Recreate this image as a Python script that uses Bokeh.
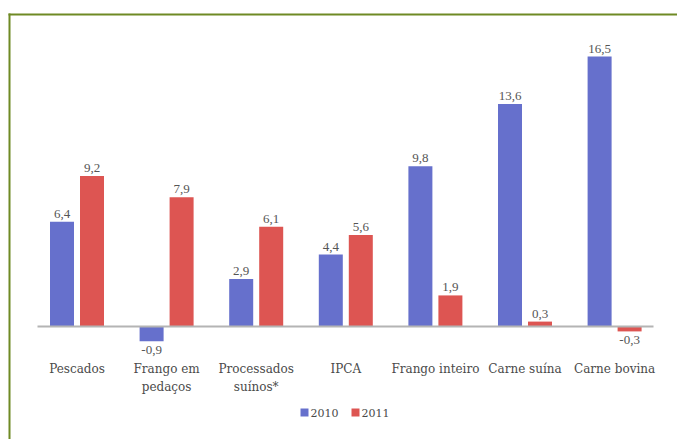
from bokeh.plotting import figure
from bokeh.models import Range1d, ColumnDataSource
from bokeh.core.properties import value
from bokeh.embed import file_html
from bokeh.resources import INLINE

categories = ["Pescados", "Frango em\npedaços", "Processados\nsuínos*", "IPCA",
              "Frango inteiro", "Carne suína", "Carne bovina"]
v2010 = [6.4, -0.9, 2.9, 4.4, 9.8, 13.6, 16.5]
v2011 = [9.2, 7.9, 6.1, 5.6, 1.9, 0.3, -0.3]
series = ["2010", "2011"]
colors = ["#6670cc", "#dd5552"]

W, H = 677, 439
SX = 89.6          # px per category
X0 = -76.5 / SX    # data x at left edge
ZERO_PX = 326
SY = 16.36         # px per unit

def xd(px):
    return X0 + px / SX

def yd(py):
    return (ZERO_PX - py) / SY

p = figure(width=W, height=H, x_range=Range1d(X0, X0 + W / SX),
           y_range=Range1d(yd(H), yd(0)), min_border=0,
           min_border_left=0, min_border_right=0, min_border_top=0, min_border_bottom=0,
           toolbar_location=None, output_backend="svg")
p.axis.visible = False
p.grid.visible = False
p.outline_line_color = None
p.background_fill_color = "white"
p.border_fill_color = "white"

# frame decoration
frame_col = "#6f8a24"
p.segment(x0=[xd(8)], y0=[yd(14)], x1=[xd(W)], y1=[yd(14)], line_color=frame_col, line_width=2)
p.segment(x0=[xd(9)], y0=[yd(13)], x1=[xd(9)], y1=[yd(H)], line_color=frame_col, line_width=2)

xs = list(range(len(categories)))
off = 15 / SX
bw = 24 / SX
font = value("DejaVu Serif")
label_font = value("Liberation Serif")

for vals, sgn, col in [(v2010, -1, colors[0]), (v2011, 1, colors[1])]:
    bx = [x + sgn * off for x in xs]
    p.vbar(x=bx, top=vals, bottom=0, width=bw, fill_color=col, line_color=None)
    pos = [(x, v) for x, v in zip(bx, vals) if v >= 0]
    neg = [(x, v) for x, v in zip(bx, vals) if v < 0]
    if pos:
        p.text(x=[a for a, _ in pos], y=[b for _, b in pos],
               text=[f"{b:.1f}".replace(".", ",") for _, b in pos],
               text_align="center", text_baseline="bottom", y_offset=-4,
               text_font=label_font, text_font_size="13px", text_color="#555555")
    if neg:
        p.text(x=[a for a, _ in neg], y=[b for _, b in neg],
               text=[f"{b:.1f}".replace(".", ",") for _, b in neg],
               text_align="center", text_baseline="top", y_offset=5,
               text_font=label_font, text_font_size="13px", text_color="#555555")

# zero line
p.segment(x0=[xd(37)], y0=[0], x1=[xd(653)], y1=[0], line_color="#b4b4b4", line_width=2)

# category labels
p.text(x=xs, y=[yd(361)] * len(xs), text=categories, text_align="center",
       text_baseline="top", text_font=font, text_font_size="12px",
       text_color="#4a4a4a", text_line_height=1.3)

# legend
lx = [xd(304), xd(355)]
ly = yd(412)
p.scatter(x=lx, y=[ly, ly], marker="square", size=8, fill_color=colors, line_color=None)
p.text(x=[xd(310), xd(361)], y=[ly, ly], text=series, text_align="left",
       text_baseline="middle", text_font=font, text_font_size="11px", text_color="#4a4a4a")

open("out.html", "w").write(file_html(p, INLINE))
